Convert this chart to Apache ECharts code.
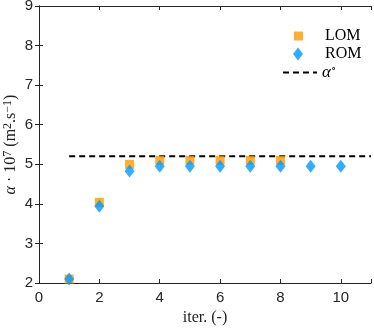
<!DOCTYPE html>
<html>
<head>
<meta charset="utf-8">
<script src="https://cdn.jsdelivr.net/npm/echarts@6/dist/echarts.min.js"></script>
<style>
	html, body { margin: 0; padding: 0; background: #fff; }
	#chart { width: 374px; height: 328px; }
</style>
</head>
<body>
<div id="chart"></div>
<script>
"use strict";

// data
var lomIter = [1, 2, 3, 4, 5, 6, 7, 8];
var lomValues = [2.1, 4.04, 5.0, 5.1, 5.1, 5.1, 5.1, 5.1];
var romIter = [1, 2, 3, 4, 5, 6, 7, 8, 9, 10];
var romValues = [2.1, 3.94, 4.83, 4.95, 4.95, 4.95, 4.95, 4.95, 4.95, 4.95];
var refRange = [1, 11];
var refValue = 5.2;
var xTicks = [0, 2, 4, 6, 8, 10];
var yTicks = [2, 3, 4, 5, 6, 7, 8, 9];

var axisColor = "#262626",
	orange = "#FF9900",
	blue = "#0099FF",
	serif = "'Liberation Serif', 'DejaVu Serif', serif",
	sans = "'Liberation Sans', Arial, sans-serif";

function pairs(xs, ys) {
	var out = [];
	for (var i = 0; i < xs.length; i++) {
		out.push([xs[i], ys[i]]);
	}
	return out;
}

var chart = echarts.init(document.getElementById("chart"));

var boxAxis = {
	axisLine : { show : true, lineStyle : { color : axisColor, width : 1 } },
	axisTick : { show : true, inside : true, length : 4, lineStyle : { color : axisColor } },
	splitLine : { show : false }
};

// legend text pushed right so all labels line up
var legendText = {
	fontFamily : serif, fontSize : 16, color : "#000",
	rich : { t : { fontFamily : serif, fontSize : 16, color : "#000", padding : [0, 0, 0, 17] } }
};

var option = {
	animation : false,
	backgroundColor : "#fff",
	grid : { left : 39, right : 3, top : 6, bottom : 45, containLabel : false, outerBoundsMode : "none" },
	legend : [
		{
			orient : "vertical", left : 289, top : 23,
			itemWidth : 9, itemHeight : 9,
			data : ["LOM"],
			formatter : "{t|{name}}",
			textStyle : legendText
		},
		{
			orient : "vertical", left : 288, top : 41,
			itemWidth : 10, itemHeight : 13,
			data : ["ROM"],
			formatter : "{t|{name}}",
			textStyle : legendText
		},
		{
			orient : "vertical", left : 277, top : 59,
			itemWidth : 34, itemHeight : 12,
			itemStyle : { opacity : 0 },
			data : ["ref"],
			formatter : function () { return "{a|α}{s|∘}"; },
			textStyle : {
				fontFamily : serif, fontSize : 16, color : "#000",
				rich : {
					a : { fontFamily : serif, fontStyle : "italic", fontSize : 17 },
					s : { fontFamily : serif, fontSize : 11, verticalAlign : "top", lineHeight : 16 }
				}
			}
		}
	],
	xAxis : [
		Object.assign({}, boxAxis, {
			type : "value", min : 0, max : 11, interval : 2,
			name : "iter. (-)", nameLocation : "middle", nameGap : 27,
			nameTextStyle : { fontFamily : serif, fontSize : 16, color : "#222" },
			axisLabel : {
				color : axisColor, fontFamily : sans, fontSize : 15, margin : 7,
				formatter : function (v) { return xTicks.indexOf(v) >= 0 ? String(v) : ""; }
			}
		}),
		Object.assign({}, boxAxis, {
			type : "value", position : "top", min : 0, max : 11, interval : 2,
			axisLabel : { show : false }
		})
	],
	yAxis : [
		Object.assign({}, boxAxis, {
			type : "value", min : 2, max : 9, interval : 1,
			name : "{a|α} · 10{s|7} (m{s|2}.s{s|−1})",
			nameLocation : "middle", nameGap : 19, nameMoveOverlap : false,
			nameTextStyle : {
				fontFamily : serif, fontSize : 16, color : "#222",
				rich : {
					a : { fontFamily : serif, fontStyle : "italic", fontSize : 16, color : "#222" },
					s : { fontFamily : serif, fontSize : 12, verticalAlign : "top", lineHeight : 18, color : "#222" }
				}
			},
			axisLabel : {
				color : axisColor, fontFamily : sans, fontSize : 15, margin : 6,
				formatter : function (v) { return yTicks.indexOf(v) >= 0 ? String(v) : ""; }
			}
		}),
		Object.assign({}, boxAxis, {
			type : "value", position : "right", min : 2, max : 9, interval : 1,
			axisLabel : { show : false }
		})
	],
	series : [
		{
			name : "LOM",
			type : "scatter",
			symbol : "rect",
			symbolSize : 9,
			itemStyle : { color : orange },
			data : pairs(lomIter, lomValues),
			z : 2
		},
		{
			name : "ROM",
			type : "scatter",
			symbol : "diamond",
			symbolSize : [10, 13],
			itemStyle : { color : blue },
			data : pairs(romIter, romValues),
			z : 3
		},
		{
			name : "ref",
			type : "line",
			symbol : "none",
			lineStyle : { color : "#000", width : 2, type : [6, 4] },
			itemStyle : { color : "#000" },
			data : [[refRange[0], refValue], [refRange[1], refValue]],
			z : 1
		}
	]
};

chart.setOption(option);
</script>
</body>
</html>
